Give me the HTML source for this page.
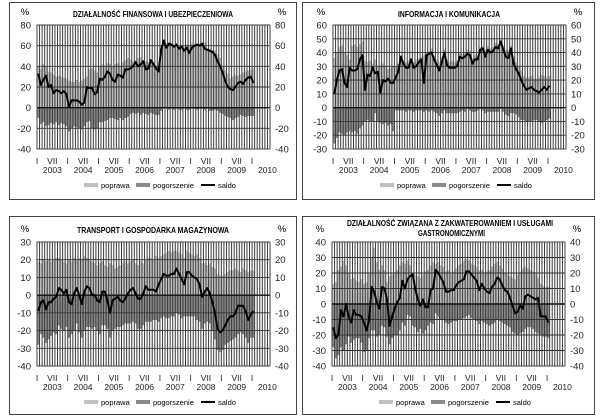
<!DOCTYPE html>
<html><head><meta charset="utf-8"><style>
html,body{margin:0;padding:0;background:#fff}
svg{display:block;font-family:"Liberation Sans",sans-serif}
</style></head><body>
<svg id="c" width="600" height="416" viewBox="0 0 600 416" xmlns="http://www.w3.org/2000/svg"></svg>
<script>
const monthsCount = 85;
const yearLabels = ["2003","2004","2005","2006","2007","2008","2009","2010"];
const c1Poprawa = [40,38,42,40,35,34,32,30,31,30,29,28, 26,25,25,27,25,26,28,30,37,38,36,34, 40,42,41,43,42,40,42,43,41,44,46,48, 47,45,46,48,49,46,45,44,45,43,41,40, 60,63,62,63,61,61,62,60,61,59,61,60, 62,61,62,62,61,63,58,57,56,55,52,48, 40,36,33,28,30,32,31,32,34,35,36,37, 38];
const c1Pogorszenie = [-10,-16,-14,-18,-17,-15,-16,-14,-17,-15,-16,-18, -23,-20,-18,-19,-20,-21,-18,-14,-13,-20,-21,-20, -14,-14,-13,-12,-10,-10,-11,-12,-10,-12,-10,-9, -6,-5,-6,-5,-7,-5,-6,-7,-5,-6,-7,-7, -3,-1,-1,-2,-1,-2,-1,-2,-2,-1,-2,-2, -1,-1,-2,-1,-1,-2,-1,-3,-3,-2,-3,-5, -6,-8,-9,-10,-12,-10,-9,-7,-8,-9,-8,-8, -8];
const c1Saldo = [33,22,27,31,20,22,14,17,16,14,16,13, 1,7,7,7,6,3,5,20,19,19,13,15, 28,27,30,35,33,27,25,32,31,29,37,37, 38,40,44,40,42,45,37,38,46,42,38,35, 56,65,58,62,61,59,61,57,59,55,58,53, 58,60,61,60,62,57,56,55,54,51,45,40, 34,26,20,18,17,20,24,25,23,27,29,30, 24];
const c2Poprawa = [36,40,44,45,40,38,35,45,46,44,46,48, 34,33,34,32,35,30,31,32,30,28,29,30, 30,32,38,34,33,34,36,33,35,36,37,38, 40,41,43,38,35,33,37,42,35,33,34,33, 34,40,39,40,42,41,36,38,38,44,45,42, 45,43,44,47,46,49,45,42,42,45,37,33, 30,27,23,22,22,23,21,21,22,24,23,22, 23];
const c2Pogorszenie = [-26,-22,-18,-19,-20,-18,-17,-18,-17,-19,-15,-13, -10,-9,-10,-10,-4,-10,-11,-12,-11,-13,-12,-17, -2,-2,-2,-2,-3,-2,-2,-3,-2,-2,-2,-3, -2,-3,-2,-3,-4,-6,-4,-2,-4,-4,-4,-4, -4,-3,-2,-3,-1,-2,-3,-3,-2,-1,-2,-4, -3,-3,-3,-3,-3,-1,-3,-5,-6,-4,-4,-5, -7,-9,-9,-10,-10,-10,-9,-9,-10,-11,-10,-9, -8];
const c2Saldo = [10,20,27,28,18,15,29,27,27,28,35,38, 13,24,23,29,25,26,11,20,19,21,18,18, 22,26,37,32,29,29,35,29,30,33,35,18, 38,39,40,35,31,27,33,40,31,29,29,29, 30,37,36,37,39,38,32,35,35,42,43,37, 42,40,41,44,43,48,42,37,36,43,32,28, 25,20,16,13,14,15,13,12,11,13,15,13, 16];
const c3Poprawa = [19,18,20,19,20,19,20,21,21,20,19,18, 20,19,21,20,21,20,22,21,20,19,18,17, 18,19,17,16,18,17,15,16,17,18,19,18, 19,20,18,17,19,18,20,21,21,20,22,21, 22,23,24,25,24,25,25,24,23,21,25,24, 23,22,23,21,18,18,17,18,16,15,12,11, 11,12,13,14,14,15,14,13,15,14,13,14, 14];
const c3Pogorszenie = [-28,-22,-24,-27,-25,-23,-21,-22,-17,-19,-20,-18, -24,-22,-20,-16,-21,-24,-20,-18,-18,-19,-18,-20, -22,-17,-17,-19,-24,-20,-19,-18,-18,-17,-16,-16, -16,-15,-16,-19,-19,-17,-15,-15,-15,-14,-14,-15, -13,-12,-13,-13,-12,-12,-10,-11,-13,-12,-12,-12, -12,-12,-14,-15,-19,-16,-15,-16,-20,-25,-31,-32, -31,-28,-27,-26,-25,-24,-22,-21,-22,-24,-27,-24, -24];
const c3Saldo = [-9,-4,-3,-8,-4,-4,-2,-1,4,3,1,3, -4,-5,1,4,0,-5,2,5,4,0,0,-3, -4,2,2,-3,-10,-3,-2,-1,-3,-4,-2,1, 3,4,1,-2,-2,1,5,3,3,3,2,6, 9,12,11,11,12,12,15,12,9,6,13,13, 11,10,9,6,-1,2,4,1,-4,-10,-19,-21, -20,-17,-14,-12,-12,-10,-6,-6,-6,-9,-14,-11, -9];
const c4Poprawa = [13,14,22,24,28,25,20,16,17,15,14,16, 13,14,20,30,36,27,22,25,22,14,18,19, 20,22,25,27,26,28,25,20,19,18,17,19, 21,22,25,27,26,27,25,24,21,22,20,21, 23,25,26,28,29,28,26,25,24,22,22,20, 21,22,24,26,27,25,23,20,19,18,17,16, 19,21,23,24,23,22,21,20,17,13,12,11, 11];
const c4Pogorszenie = [-28,-35,-33,-28,-30,-26,-21,-25,-23,-22,-22,-25, -31,-30,-22,-17,-17,-21,-20,-14,-15,-21,-26,-22, -20,-20,-17,-12,-14,-7,-8,-14,-15,-18,-16,-19, -17,-14,-12,-13,-6,-8,-10,-10,-12,-13,-12,-11, -11,-10,-10,-9,-8,-7,-9,-10,-11,-13,-11,-12, -13,-14,-13,-12,-10,-11,-12,-13,-14,-15,-18,-19, -20,-19,-18,-16,-15,-15,-16,-18,-19,-20,-21,-21, -22];
const c4Saldo = [-15,-22,-20,-4,-8,0,-8,-12,-4,-7,-7,-8, -12,-17,-10,11,8,1,-3,11,10,3,-14,-8, -3,1,4,15,10,16,18,19,10,3,-1,3, -2,-2,9,10,22,20,17,14,8,8,9,9, 12,14,15,16,21,21,19,17,15,9,13,10, 8,7,11,13,17,16,12,9,8,4,-1,-6, -5,-1,-3,5,6,5,4,3,4,-8,-8,-8, -12];
const c1Ticks=[80,60,40,20,0,-20,-40], c2Ticks=[60,50,40,30,20,10,0,-10,-20,-30];
const c3Ticks=[30,20,10,0,-10,-20,-30,-40], c4Ticks=[40,30,20,10,0,-10,-20,-30,-40];

const NS="http://www.w3.org/2000/svg";
const svg=document.getElementById('c');
function mk(tag,attrs,parent,txt){const e=document.createElementNS(NS,tag);for(const k in attrs)e.setAttribute(k,attrs[k]);if(txt!==undefined)e.textContent=txt;(parent||svg).appendChild(e);return e;}

function drawChart(cfg){
  const g=mk('g',{});
  
  
  const box=mk('rect',{x:cfg.bx,y:cfg.by,width:cfg.bw,height:cfg.bh,fill:'#fff',stroke:'#444','stroke-width':1},g);
  
  
  const L=cfg.px, R=cfg.px+233, T=cfg.py, B=cfg.py+124;
  const ymax=cfg.ticks[0], ymin=cfg.ticks[cfg.ticks.length-1];
  const y=v=>T+(ymax-v)/(ymax-ymin)*(B-T);
  const mw=(R-L)/91;
  const x=i=>L+i*mw;
  for(let i=0;i<monthsCount;i++){
    const b1=mk('rect',{x:x(i),y:y(cfg.pop[i]),width:mw,height:y(0)-y(cfg.pop[i]),fill:'#c0c0c0'},g);
    
    
    const b2=mk('rect',{x:x(i),y:y(0),width:mw,height:y(cfg.pog[i])-y(0),fill:'#8a8a8a'},g);
    
    
  }
  for(let i=0;i<=91;i++){mk('line',{x1:x(i),x2:x(i),y1:T,y2:B,stroke:'#3a3a3a','stroke-width':1},g);}
  cfg.ticks.forEach(t=>{
    mk('line',{x1:L,x2:R,y1:y(t),y2:y(t),stroke:t===0?'#111':'#333','stroke-width':t===0?1.4:0.9},g);
    const tl=mk('text',{x:L-6,y:y(t)+3.5,'font-size':9.5,'text-anchor':'end',fill:'#222'},g,String(t));
    
    
    const tr=mk('text',{x:R+5,y:y(t)+3.5,'font-size':9.5,'text-anchor':'start',fill:'#222'},g,String(t));
    
    
  });
  mk('rect',{x:L,y:T,width:R-L,height:B-T,fill:'none',stroke:'#444','stroke-width':0.8},g);
  let d='';
  for(let i=0;i<monthsCount;i++){d+=(i?'L':'M')+(x(i)+mw/2).toFixed(1)+' '+y(cfg.sal[i]).toFixed(1);}
  const ln=mk('path',{d:d,fill:'none',stroke:'#000','stroke-width':2,'stroke-linejoin':'round'},g);
  
  
  for(let k=0;k<=14;k++){
    const xm=L+k*6*mw;
    const t=mk('text',{x:xm,y:B+15,'font-size':8.5,'text-anchor':'middle',fill:'#222'},g,k%2?'VII':'I');
    
    
  }
  yearLabels.forEach((yr,k)=>{
    const t=mk('text',{x:L+(k*12+6)*mw,y:B+24,'font-size':8.5,'text-anchor':'middle',fill:'#222'},g,yr);
    
    
  });
  const p1=mk('text',{x:L-12,y:cfg.py-10,'font-size':9.5,'text-anchor':'middle'},g,'%');
  
  
  const p2=mk('text',{x:R+12,y:cfg.py-10,'font-size':9.5,'text-anchor':'middle'},g,'%');
  
  
  cfg.title.forEach((tt,k)=>{
    const t=mk('text',{x:cfg.tx[k],y:cfg.ty+k*10,'font-size':8.5,'font-weight':'bold','text-anchor':'start',textLength:cfg.tw[k],lengthAdjust:'spacingAndGlyphs'},g,tt);
    
    
  });
  const ly=B+37, lx=L+47;
  const s1=mk('rect',{x:lx,y:ly-3,width:14,height:4,fill:'#c0c0c0'},g);
  
  
  const l1=mk('text',{x:lx+17,y:ly+2,'font-size':7.5},g,'poprawa');
  
  
  const s2=mk('rect',{x:lx+52,y:ly-3,width:14,height:4,fill:'#8a8a8a'},g);
  
  
  const l2=mk('text',{x:lx+69,y:ly+2,'font-size':7.5},g,'pogorszenie');
  
  
  const s3=mk('line',{x1:lx+117,x2:lx+131,y1:ly-1,y2:ly-1,stroke:'#000','stroke-width':2},g);
  
  
  const l3=mk('text',{x:lx+134,y:ly+2,'font-size':7.5},g,'saldo');
  
  
}
drawChart({name:'chart-finanse',bx:9.5,by:2.5,bw:287,bh:197,px:37,py:25,ticks:c1Ticks,pop:c1Poprawa,pog:c1Pogorszenie,sal:c1Saldo,title:['DZIAŁALNOŚĆ FINANSOWA I UBEZPIECZENIOWA'],tx:[73],tw:[160],ty:17});
drawChart({name:'chart-informacja',bx:302.5,by:2.5,bw:292,bh:197,px:333,py:25,ticks:c2Ticks,pop:c2Poprawa,pog:c2Pogorszenie,sal:c2Saldo,title:['INFORMACJA I KOMUNIKACJA'],tx:[398],tw:[102],ty:17});
drawChart({name:'chart-transport',bx:9.5,by:216.5,bw:287,bh:198,px:37,py:242,ticks:c3Ticks,pop:c3Poprawa,pog:c3Pogorszenie,sal:c3Saldo,title:['TRANSPORT I GOSPODARKA MAGAZYNOWA'],tx:[77],tw:[152],ty:233});
drawChart({name:'chart-zakwaterowanie',bx:302.5,by:216.5,bw:292,bh:198,px:332,py:242,ticks:c4Ticks,pop:c4Poprawa,pog:c4Pogorszenie,sal:c4Saldo,title:['DZIAŁALNOŚĆ ZWIĄZANA Z ZAKWATEROWANIEM I USŁUGAMI','GASTRONOMICZNYMI'],tx:[347,418],tw:[206,67],ty:226});
</script>
</body></html>
